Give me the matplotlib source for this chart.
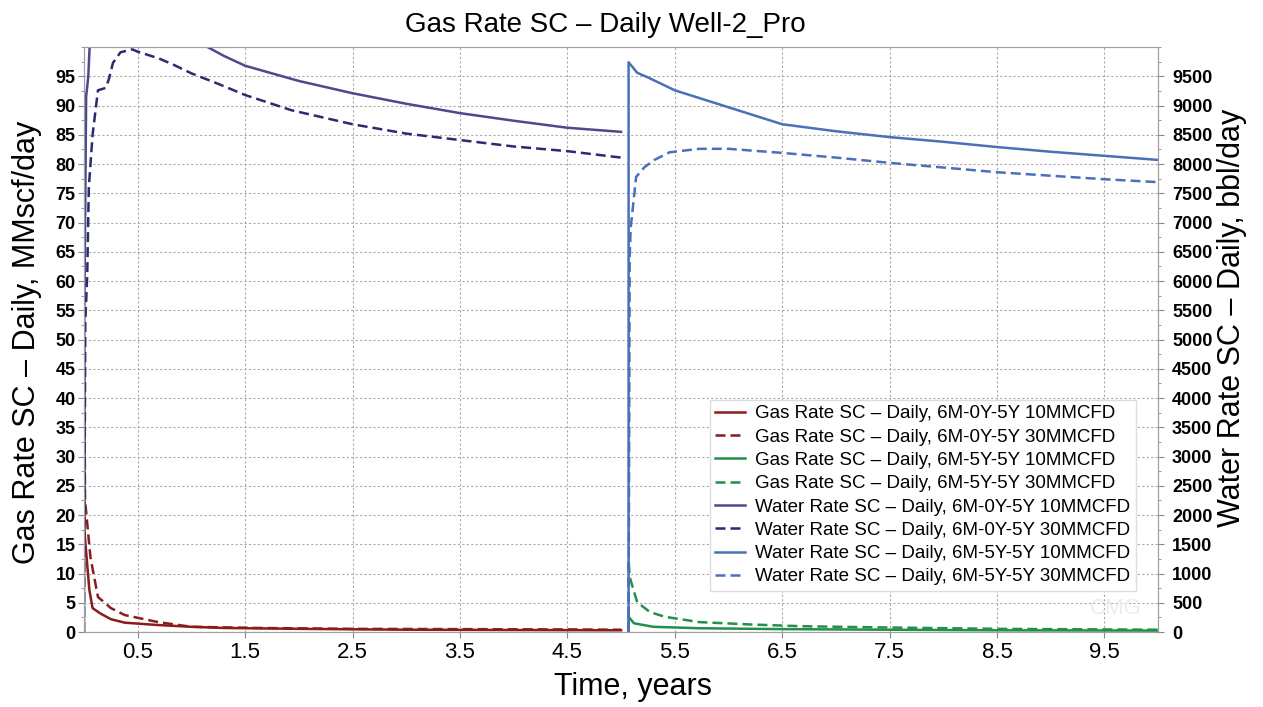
import matplotlib
matplotlib.use("Agg")
import matplotlib.pyplot as plt
from matplotlib.ticker import MultipleLocator

plt.rcParams['font.family'] = ['Liberation Sans', 'DejaVu Sans']

# Gas rate, 6M-0Y-5Y (MMscf/day)
t_gas_0y_10 = [0.0, 0.005, 0.05, 0.08, 0.15, 0.25, 0.38, 0.69, 1.0, 1.3, 2.0, 3.0, 4.0, 5.0]
gas_0y_10 = [50, 17, 7.2, 4.1, 3.2, 2.2, 1.6, 1.2, 0.9, 0.7, 0.55, 0.4, 0.35, 0.3]
t_gas_0y_30 = [0.0, 0.01, 0.06, 0.13, 0.25, 0.38, 0.69, 1.0, 1.62, 2.5, 3.5, 4.5, 5.0]
gas_0y_30 = [50, 22.5, 12.8, 6.0, 4.1, 2.9, 1.7, 0.9, 0.7, 0.55, 0.5, 0.45, 0.4]

# Gas rate, 6M-5Y-5Y
t_gas_5y_10 = [5.07, 5.07, 5.12, 5.3, 5.73, 6.5, 7.5, 8.5, 10.0]
gas_5y_10 = [0, 2.6, 1.5, 0.9, 0.65, 0.5, 0.4, 0.3, 0.25]
t_gas_5y_30 = [5.07, 5.07, 5.08, 5.15, 5.27, 5.41, 5.73, 6.2, 6.67, 7.4, 8.5, 10.0]
gas_5y_30 = [0, 12.3, 9.4, 5.1, 3.4, 2.6, 1.7, 1.3, 1.0, 0.8, 0.55, 0.4]

# Water rate, 6M-0Y-5Y (bbl/day)
t_wat_0y_10 = [0.0, 0.003, 0.02, 0.04, 0.06, 0.3, 0.6, 1.0, 1.15, 1.3, 1.5, 2.0, 2.5, 3.0, 3.5, 4.0, 4.5, 5.0]
wat_0y_10 = [0, 5400, 9150, 9500, 10300, 10600, 10500, 10150, 10000, 9850, 9680, 9420, 9210, 9030, 8870, 8740, 8620, 8550]
t_wat_0y_30 = [0.0, 0.012, 0.03, 0.045, 0.08, 0.13, 0.2, 0.23, 0.27, 0.34, 0.45, 0.5, 0.69, 0.83, 1.0,
               1.25, 1.5, 1.93, 2.5, 3.0, 3.5, 4.0, 4.5, 5.0]
wat_0y_30 = [0, 5300, 6100, 7600, 8500, 9260, 9300, 9440, 9730, 9910, 9960, 9920, 9810, 9700, 9550,
             9370, 9180, 8920, 8680, 8520, 8410, 8300, 8220, 8110]

# Water rate, 6M-5Y-5Y
t_wat_5y_10 = [5.07, 5.07, 5.15, 5.25, 5.5, 6.0, 6.5, 7.0, 7.5, 8.0, 8.5, 9.0, 9.5, 10.0]
wat_5y_10 = [0, 9740, 9560, 9480, 9260, 8970, 8680, 8560, 8460, 8380, 8290, 8210, 8140, 8070]
t_wat_5y_30 = [5.07, 5.08, 5.09, 5.11, 5.14, 5.22, 5.31, 5.45, 5.73, 6.0, 6.5, 7.0, 7.5, 8.0, 8.5, 9.0, 9.5, 10.0]
wat_5y_30 = [0, 6410, 6920, 7260, 7780, 7950, 8070, 8200, 8260, 8260, 8190, 8110, 8020, 7940, 7860, 7800, 7740, 7690]

x_ticks = [0.5, 1.5, 2.5, 3.5, 4.5, 5.5, 6.5, 7.5, 8.5, 9.5]

red = '#8b1c1c'
green = '#23904a'
navy_s = '#4a4a8c'
navy_d = '#2b2b70'
steel = '#4a70b8'
dash = (0, (4, 2))
lw = 1.8

fig = plt.figure(figsize=(12.63, 7.07), dpi=100)
ax = fig.add_axes([0.0665, 0.106, 0.8505, 0.8275])
ax2 = ax.twinx()

ax.plot(t_gas_0y_10, gas_0y_10, color=red, lw=lw, label='Gas Rate SC – Daily, 6M-0Y-5Y 10MMCFD')
ax.plot(t_gas_0y_30, gas_0y_30, color=red, lw=lw, ls=dash, label='Gas Rate SC – Daily, 6M-0Y-5Y 30MMCFD')
ax.plot(t_gas_5y_10, gas_5y_10, color=green, lw=lw, label='Gas Rate SC – Daily, 6M-5Y-5Y 10MMCFD')
ax.plot(t_gas_5y_30, gas_5y_30, color=green, lw=lw, ls=dash, label='Gas Rate SC – Daily, 6M-5Y-5Y 30MMCFD')

ax2.plot(t_wat_0y_10, wat_0y_10, color=navy_s, lw=lw, label='Water Rate SC – Daily, 6M-0Y-5Y 10MMCFD')
ax2.plot(t_wat_0y_30, wat_0y_30, color=navy_d, lw=lw, ls=dash, label='Water Rate SC – Daily, 6M-0Y-5Y 30MMCFD')
ax2.plot(t_wat_5y_30, wat_5y_30, color=steel, lw=lw, ls=dash, label='Water Rate SC – Daily, 6M-5Y-5Y 30MMCFD')
ax2.plot(t_wat_5y_10, wat_5y_10, color=steel, lw=lw, label='Water Rate SC – Daily, 6M-5Y-5Y 10MMCFD')

ax.set_xlim(0, 10)
ax.set_ylim(0, 100)
ax2.set_ylim(0, 10000)
ax.set_xticks(x_ticks)
ax.set_xticklabels([str(v) for v in x_ticks], fontsize=16)
ax.set_yticks(range(0, 100, 5))
ax2.set_yticks(range(0, 10000, 500))
ax.yaxis.set_minor_locator(MultipleLocator(2.5))
ax2.yaxis.set_minor_locator(MultipleLocator(250))
for lab in ax.get_yticklabels():
    lab.set_fontweight('bold')
    lab.set_fontsize(13)
for lab in ax2.get_yticklabels():
    lab.set_fontweight('bold')
    lab.set_fontsize(13)
ax.tick_params(axis='y', length=4, pad=2, color='#888888')
ax.tick_params(axis='y', which='minor', length=2, color='#888888')
ax.tick_params(axis='x', length=4, pad=3, color='#888888')
ax2.tick_params(axis='y', length=4, pad=6, color='#888888')
ax2.tick_params(axis='y', which='minor', length=2, color='#888888')

ax.grid(True, which='major', ls=(0, (2, 2)), color='#aaaaaa', lw=0.8)
for a in (ax, ax2):
    for s in a.spines.values():
        s.set_color('#a0a0a0')

ax.text(0.985, 0.04, 'CMG', transform=ax.transAxes, fontsize=16, color='#ececec',
        ha='right', va='center')

h1, l1 = ax.get_legend_handles_labels()
h2, l2 = ax2.get_legend_handles_labels()
order = [0, 1, 3, 2]
h2 = [h2[i] for i in order]
l2 = [l2[i] for i in order]
leg = ax2.legend(h1 + h2, l1 + l2, loc='lower right', bbox_to_anchor=(0.979, 0.07),
                 fontsize=13.5, frameon=True, fancybox=False, framealpha=1,
                 edgecolor='#dddddd', handlelength=1.6, handletextpad=0.5,
                 labelspacing=0.33, borderpad=0.3, borderaxespad=0)

fig.text(605 / 1263, 1 - 25 / 707, 'Gas Rate SC – Daily Well-2_Pro', fontsize=20, ha='center', va='center')
fig.text(633 / 1263, 1 - 687 / 707, 'Time, years', fontsize=22, ha='center', va='center')
fig.text(27 / 1263, 1 - 342 / 707, 'Gas Rate SC – Daily, MMscf/day', fontsize=22, rotation=90,
         ha='center', va='center')
fig.text(1232 / 1263, 1 - 318 / 707, 'Water Rate SC – Daily, bbl/day', fontsize=22, rotation=90,
         ha='center', va='center')

fig.savefig('out.png', dpi=100)
